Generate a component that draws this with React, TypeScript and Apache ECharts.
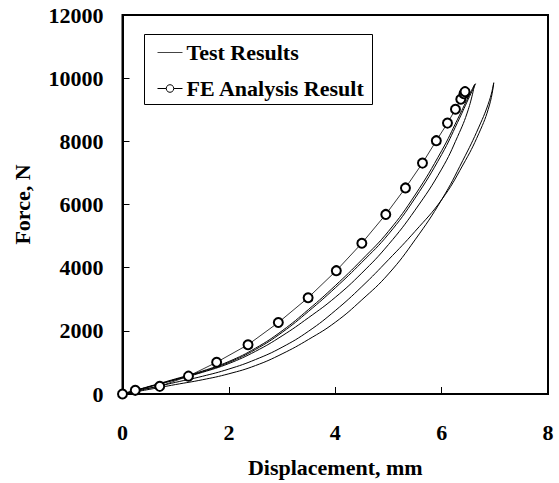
import React, { useEffect, useRef } from "react";
import * as echarts from "echarts";

const xTicks = [0, 2, 4, 6, 8];
const yTicks = [0, 2000, 4000, 6000, 8000, 10000, 12000];
const legendLabels = ["Test Results", "FE Analysis Result"];

// FE analysis result (displacement mm, force N)
const feX = [0.0, 0.24, 0.7, 1.24, 1.77, 2.36, 2.93, 3.49, 4.02, 4.5, 4.95, 5.32, 5.64, 5.9, 6.11, 6.26, 6.36, 6.42, 6.44];
const feY = [0, 116, 242, 565, 1005, 1561, 2262, 3047, 3905, 4775, 5686, 6525, 7311, 8021, 8577, 9017, 9331, 9510, 9573];

// Test results: branches meeting at the left peak (~6.62 mm)
const testAX = [0, 0.5, 1.0, 1.5, 2.0, 2.5, 3.0, 3.5, 4.0, 4.5, 5.0, 5.5, 6.0, 6.3, 6.5, 6.62];
const testAY = [0, 240, 480, 725, 1030, 1450, 2000, 2680, 3430, 4250, 5150, 6300, 7700, 8700, 9400, 9800];
const testA2X = [0, 0.5, 1.0, 1.5, 2.0, 2.5, 3.0, 3.5, 4.0, 4.5, 5.0, 5.5, 6.0, 6.3, 6.5, 6.64];
const testA2Y = [0, 230, 465, 705, 1000, 1410, 1950, 2620, 3360, 4170, 5060, 6200, 7580, 8600, 9330, 9830];
const testBX = [0, 0.5, 1.0, 1.5, 2.0, 2.5, 3.0, 3.5, 4.0, 4.5, 5.0, 5.5, 6.0, 6.3, 6.5, 6.62];
const testBY = [0, 225, 450, 685, 965, 1350, 1840, 2420, 3060, 3830, 4730, 5820, 7120, 8150, 9000, 9800];
// Test results: branches meeting at the right peak (~6.98 mm)
const testCX = [0, 0.5, 1.0, 1.5, 2.0, 2.5, 3.0, 3.5, 4.0, 4.5, 5.0, 5.5, 6.0, 6.4, 6.7, 6.9, 6.98];
const testCY = [0, 180, 370, 560, 790, 1090, 1480, 1990, 2640, 3400, 4250, 5150, 6150, 7250, 8250, 9150, 9855];
const testDX = [0, 0.5, 1.0, 1.5, 2.0, 2.5, 3.0, 3.5, 4.0, 4.5, 5.0, 5.5, 6.0, 6.4, 6.7, 6.9, 6.98];
const testDY = [0, 145, 300, 450, 640, 900, 1270, 1730, 2270, 2980, 3800, 4880, 6150, 7400, 8450, 9300, 9855];

const pairs = (xs: number[], ys: number[]) => xs.map((x, i) => [x, ys[i]]);

const FONT = "'Liberation Serif', 'Times New Roman', serif";

export default function App() {
  const ref = useRef<HTMLDivElement>(null);
  useEffect(() => {
    if (!ref.current) return;
    const chart = echarts.init(ref.current, undefined, { renderer: "svg" });
    const testSeries = [
      [testAX, testAY],
      [testA2X, testA2Y],
      [testBX, testBY],
      [testCX, testCY],
      [testDX, testDY],
    ].map(([xs, ys]) => ({
      name: legendLabels[0],
      type: "line",
      data: pairs(xs, ys),
      smooth: 0.45,
      symbol: "none",
      lineStyle: { color: "#000", width: 1 },
      itemStyle: { color: "#000" },
      z: 2,
    }));
    const labelStyle = { fontFamily: FONT, fontWeight: "bold", fontSize: 22, fill: "#000" };
    chart.setOption({
      animation: false,
      backgroundColor: "#fff",
      grid: {
        left: 122.5,
        right: 11,
        top: 15,
        bottom: 86,
        show: true,
        borderColor: "#000",
        borderWidth: 2,
      },
      xAxis: {
        type: "value",
        min: xTicks[0],
        max: xTicks[xTicks.length - 1],
        interval: 2,
        name: "Displacement, mm",
        nameLocation: "middle",
        nameGap: 62,
        nameTextStyle: { fontFamily: FONT, fontWeight: "bold", fontSize: 22, color: "#000" },
        axisLine: { show: true, lineStyle: { color: "#000", width: 2 } },
        axisTick: { show: true, inside: true, length: 7, lineStyle: { color: "#000", width: 1 } },
        axisLabel: {
          fontFamily: FONT, fontWeight: "bold", fontSize: 22, color: "#000", margin: 27,
          formatter: (v: number) => String(v),
        },
        splitLine: { show: false },
      },
      yAxis: {
        type: "value",
        min: yTicks[0],
        max: yTicks[yTicks.length - 1],
        interval: 2000,
        name: "Force, N",
        nameLocation: "middle",
        nameGap: 89,
        nameTextStyle: { fontFamily: FONT, fontWeight: "bold", fontSize: 22, color: "#000" },
        axisLine: { show: true, lineStyle: { color: "#000", width: 2 } },
        axisTick: { show: true, inside: true, length: 7, lineStyle: { color: "#000", width: 1 } },
        axisLabel: {
          fontFamily: FONT, fontWeight: "bold", fontSize: 22, color: "#000", margin: 19,
          formatter: (v: number) => String(v),
        },
        splitLine: { show: false },
      },
      graphic: [
        {
          type: "group",
          left: 144,
          top: 34,
          z: 100,
          children: [
            { type: "rect", shape: { x: 0, y: 0, width: 228, height: 70 }, style: { fill: "#fff", stroke: "#000", lineWidth: 1 } },
            { type: "line", shape: { x1: 13, y1: 18, x2: 38, y2: 18 }, style: { stroke: "#444", lineWidth: 1 } },
            { type: "text", x: 42, y: 18, style: { ...labelStyle, text: legendLabels[0], verticalAlign: "middle", textVerticalAlign: "middle" } },
            { type: "line", shape: { x1: 13, y1: 54, x2: 38, y2: 54 }, style: { stroke: "#000", lineWidth: 1 } },
            { type: "circle", shape: { cx: 25.5, cy: 54, r: 3.8 }, style: { fill: "#fff", stroke: "#000", lineWidth: 1 } },
            { type: "text", x: 42, y: 54, style: { ...labelStyle, text: legendLabels[1], verticalAlign: "middle", textVerticalAlign: "middle" } },
          ],
        },
      ],
      series: [
        ...testSeries,
        {
          name: legendLabels[1],
          type: "line",
          data: pairs(feX, feY),
          symbol: "emptyCircle",
          symbolSize: 9,
          lineStyle: { color: "#000", width: 0.8 },
          itemStyle: { color: "#000", borderColor: "#000", borderWidth: 0.9 },
          z: 3,
        },
      ],
    });
    return () => chart.dispose();
  }, []);
  return <div ref={ref} style={{ position: "fixed", left: 0, top: 0, width: 559, height: 483 }} />;
}
